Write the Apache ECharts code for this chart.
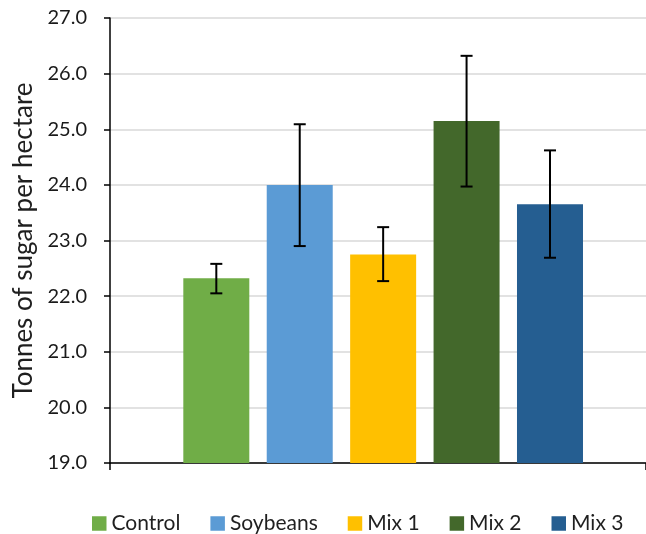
<!DOCTYPE html>
<html>
<head>
<meta charset="utf-8">
<script src="https://cdn.jsdelivr.net/npm/echarts@6/dist/echarts.min.js"></script>
<style>html,body{margin:0;padding:0;background:#fff;}#c{width:646px;height:534px;}</style>
</head>
<body>
<div id="c"></div>
<script>
const categories = ['Control', 'Soybeans', 'Mix 1', 'Mix 2', 'Mix 3'];
const means = [22.32, 24.00, 22.75, 25.15, 23.65];
const errLow = [22.05, 22.90, 22.27, 23.97, 22.69];
const errHigh = [22.58, 25.09, 23.24, 26.32, 24.62];
const colors = ['#70ad47', '#5b9bd5', '#ffc000', '#43682b', '#255e91'];
const yTicks = { min: 19, max: 27, interval: 1 };

const FONT = 'Lato';
const chart = echarts.init(document.getElementById('c'), null, { renderer: 'canvas' });

const barSeries = categories.map((name, i) => ({
  name: name,
  type: 'bar',
  xAxisIndex: 1,
  yAxisIndex: 1,
  stack: 'all',
  barWidth: 66,
  itemStyle: { color: colors[i] },
  data: categories.map((c, j) => (j === i ? means[i] : '-')),
  z: 2
}));

const errSeries = {
  type: 'custom',
  xAxisIndex: 1,
  yAxisIndex: 1,
  z: 5,
  silent: true,
  data: categories.map((c, i) => [i, errLow[i], errHigh[i]]),
  renderItem: function (params, api) {
    const x = api.value(0);
    const lo = api.coord([x, api.value(1)]);
    const hi = api.coord([x, api.value(2)]);
    const hw = 6;
    const style = { stroke: '#000', lineWidth: 2 };
    return {
      type: 'group',
      children: [
        { type: 'line', shape: { x1: lo[0], y1: lo[1], x2: hi[0], y2: hi[1] }, style: style },
        { type: 'line', shape: { x1: hi[0] - hw, y1: hi[1], x2: hi[0] + hw, y2: hi[1] }, style: style },
        { type: 'line', shape: { x1: lo[0] - hw, y1: lo[1], x2: lo[0] + hw, y2: lo[1] }, style: style }
      ]
    };
  }
};

chart.setOption({
  animation: false,
  backgroundColor: '#fff',
  grid: [
    { left: 110, right: 0, top: 18, bottom: 71 },
    { left: 174.6, right: 54.3, top: 18, bottom: 71 }
  ],
  legend: {
    left: 87,
    top: 508,
    itemWidth: 14.5,
    itemHeight: 14.5,
    itemGap: 30,
    icon: 'rect',
    data: categories,
    textStyle: { fontFamily: FONT, fontSize: 21, color: '#1f1f1f' }
  },
  xAxis: [
    {
      type: 'category',
      gridIndex: 0,
      data: [''],
      axisLine: { show: true, lineStyle: { color: '#000', width: 1.5 } },
      axisTick: { show: true, length: 7, lineStyle: { color: '#000', width: 1.5 } },
      axisLabel: { show: false },
      splitLine: { show: false }
    },
    {
      type: 'category',
      gridIndex: 1,
      data: categories,
      show: false
    }
  ],
  yAxis: [
    {
      type: 'value',
      gridIndex: 0,
      min: yTicks.min,
      max: yTicks.max,
      interval: yTicks.interval,
      name: 'Tonnes of sugar per hectare',
      nameLocation: 'middle',
      nameGap: 72,
      nameTextStyle: { fontFamily: FONT, fontSize: 26, color: '#1f1f1f' },
      axisLine: { show: true, lineStyle: { color: '#000', width: 1.5 } },
      axisTick: { show: true, length: 6, lineStyle: { color: '#000', width: 1.5 } },
      axisLabel: {
        margin: 23,
        fontFamily: FONT,
        fontSize: 20,
        color: '#1a1a1a',
        formatter: v => v.toFixed(1)
      },
      splitLine: { show: true, lineStyle: { color: '#d9d9d9', width: 1.5 } }
    },
    {
      type: 'value',
      gridIndex: 1,
      min: yTicks.min,
      max: yTicks.max,
      interval: yTicks.interval,
      show: false,
      splitLine: { show: false }
    }
  ],
  series: barSeries.concat([errSeries])
});
</script>
</body>
</html>
